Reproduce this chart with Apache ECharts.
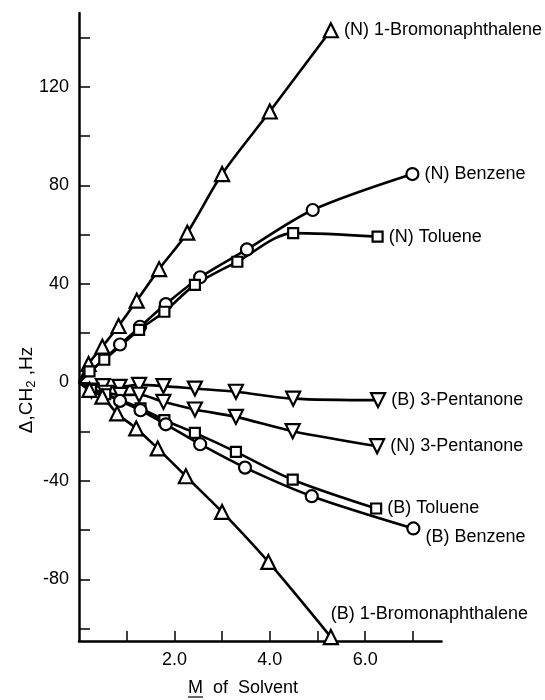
<!DOCTYPE html>
<html>
<head>
<meta charset="utf-8">
<script src="https://cdn.jsdelivr.net/npm/echarts@6/dist/echarts.min.js"></script>
<style>
  html, body { margin: 0; padding: 0; background: #fff; }
  #chart { width: 545px; height: 700px; }
</style>
</head>
<body>
<div id="chart"></div>
<script>
// [M of solvent, delta CH2 (Hz)]
const nBromo = [[0, 0], [0.2, 7.5], [0.49, 14.5], [0.83, 22.9], [1.21, 33.2], [1.68, 46], [2.27, 60.8], [3.0, 84.6], [4.0, 110], [5.28, 143]];
const nBenz = [[0, 0], [0.86, 15.4], [1.28, 22.6], [1.82, 31.8], [2.54, 42.7], [3.52, 54], [4.9, 70], [6.99, 84.6]];
const nTol = [[0, 0], [0.22, 4.5], [0.53, 9.2], [1.26, 21.3], [1.79, 28.7], [2.43, 39.6], [3.32, 49], [4.49, 60.6], [6.26, 59.2]];
const bPent = [[0, 0], [0.5, -1.5], [0.85, -1.8], [1.26, -1], [1.77, -1.5], [2.43, -2.5], [3.29, -3.8], [4.49, -6.6], [6.27, -7.2]];
const nPent = [[0, 0], [0.26, -3.3], [0.55, -4.2], [0.87, -5.1], [1.26, -5], [1.77, -7.9], [2.43, -11], [3.29, -14], [4.48, -19.8], [6.25, -25.9]];
const bTol = [[0, 0], [0.25, -3], [0.55, -4.8], [1.29, -10.5], [1.79, -15.3], [2.43, -20.5], [3.29, -28.2], [4.48, -39.5], [6.23, -51.2]];
const bBenz = [[0, 0], [0.86, -7.5], [1.29, -11.3], [1.82, -17], [2.54, -25.1], [3.48, -34.6], [4.88, -46.2], [7.01, -59.3]];
const bBromo = [[0, 0], [0.22, -3], [0.49, -5.8], [0.8, -12.6], [1.2, -18.7], [1.65, -26.8], [2.24, -38.1], [3.0, -52.6], [3.97, -72.9], [5.28, -103.4]];

const yTicks = [-100, -80, -60, -40, -20, 0, 20, 40, 60, 80, 100, 120, 140];
const yLabels = [-80, -40, 0, 40, 80, 120];
const xTicks = [1, 2, 3, 4, 5, 6, 7];
const xLabels = [2, 4, 6];

const FONT = 'Liberation Sans';

const chart = echarts.init(document.getElementById('chart'), null, { renderer: 'canvas' });

function mkSeries(name, pts, symbol, size, rotate, labelOpt) {
  const data = pts.map(function (p, i) {
    const item = { value: p };
    if (i === 0) item.symbol = 'none';
    if (i === pts.length - 1) {
      item.label = Object.assign({
        show: true,
        formatter: name,
        position: 'right',
        distance: 5,
        color: '#000',
        fontFamily: FONT,
        fontSize: 18
      }, labelOpt || {});
    }
    return item;
  });
  return {
    name: name,
    type: 'line',
    data: data,
    smooth: 0.3,
    clip: false,
    symbol: symbol,
    symbolSize: size,
    symbolRotate: rotate,
    showAllSymbol: true,
    lineStyle: { color: '#000', width: 2.6 },
    itemStyle: { color: '#fff', borderColor: '#000', borderWidth: 2.2 },
    emphasis: { disabled: true },
    z: 3
  };
}

const option = {
  animation: false,
  backgroundColor: '#fff',
  grid: { left: 79, right: 103.5, top: 13, bottom: 59 },
  xAxis: {
    type: 'value',
    min: 0,
    max: 7.6,
    axisLine: { onZero: false, lineStyle: { color: '#000', width: 2.5 } },
    axisTick: { inside: true, length: 10, customValues: xTicks, lineStyle: { color: '#000', width: 1.5 } },
    axisLabel: {
      customValues: xLabels,
      formatter: function (v) { return v.toFixed(1); },
      color: '#000', fontFamily: FONT, fontSize: 18, margin: 10
    },
    splitLine: { show: false }
  },
  yAxis: {
    type: 'value',
    min: -105,
    max: 150,
    axisLine: { onZero: false, lineStyle: { color: '#000', width: 2.5 } },
    axisTick: { inside: true, length: 11, customValues: yTicks, lineStyle: { color: '#000', width: 1.5 } },
    axisLabel: {
      customValues: yLabels,
      color: '#000', fontFamily: FONT, fontSize: 18, margin: 10
    },
    splitLine: { show: false }
  },
  graphic: [
    {
      type: 'text',
      x: 27,
      y: 390,
      rotation: Math.PI / 2,
      style: {
        text: '{a|\u0394,CH}{s|2}{a| ,Hz}',
        align: 'center',
        verticalAlign: 'middle',
        fill: '#000',
        rich: {
          a: { fontFamily: FONT, fontSize: 19, fill: '#000' },
          s: { fontFamily: FONT, fontSize: 13, fill: '#000', padding: [9, 0, 0, 0] }
        }
      }
    },
    {
      type: 'group',
      x: 188,
      y: 688,
      children: [
        {
          type: 'text',
          x: 0,
          y: 0,
          style: {
            text: 'M  of  Solvent',
            font: '18px "' + FONT + '"',
            fill: '#000',
            align: 'left',
            verticalAlign: 'middle'
          }
        },
        {
          type: 'line',
          shape: { x1: 0, y1: 9, x2: 15, y2: 9 },
          style: { stroke: '#000', lineWidth: 1.2 }
        }
      ]
    }
  ],
  series: [
    mkSeries('(N) 1-Bromonaphthalene', nBromo, 'triangle', 14, 0),
    mkSeries('(N) Benzene', nBenz, 'circle', 12, 0),
    mkSeries('(N) Toluene', nTol, 'rect', 10, 0),
    mkSeries('(B) 3-Pentanone', bPent, 'triangle', 14, 180),
    mkSeries('(N) 3-Pentanone', nPent, 'triangle', 14, 180),
    mkSeries('(B) Toluene', bTol, 'rect', 10, 0),
    mkSeries('(B) Benzene', bBenz, 'circle', 12, 0, { offset: [0, 9] }),
    mkSeries('(B) 1-Bromonaphthalene', bBromo, 'triangle', 14, 0, { position: 'top', align: 'left', distance: 6, offset: [0, 0] })
  ]
};

chart.setOption(option);
</script>
</body>
</html>
